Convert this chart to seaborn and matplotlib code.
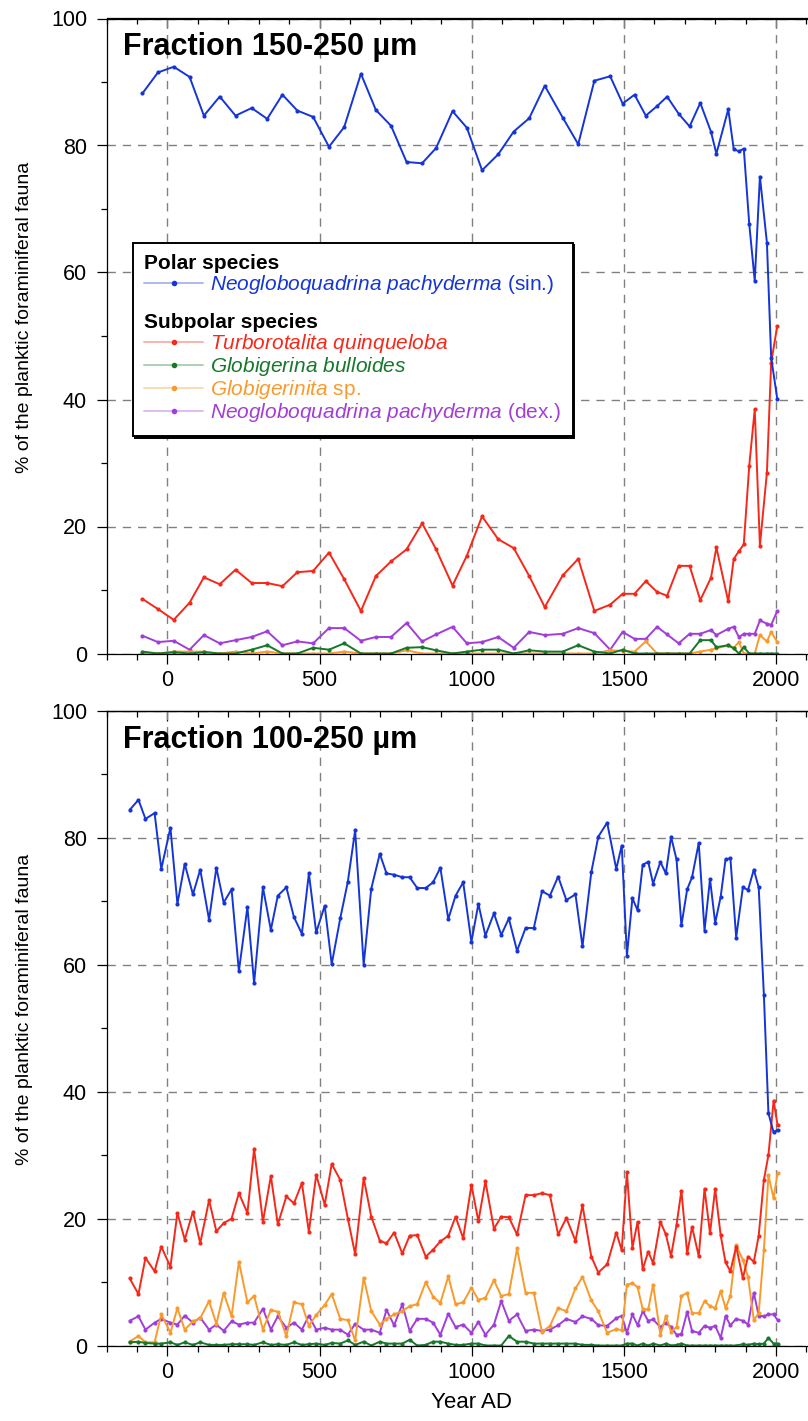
import matplotlib
matplotlib.use("Agg")
import pandas as pd
import seaborn as sns
from matplotlib import pyplot as plt
from matplotlib.colors import to_rgba
from matplotlib.lines import Line2D
from matplotlib.ticker import MultipleLocator


# Fraction 150-250 um (upper panel)
years_top = [-82, -31, 21, 73, 120, 172, 224, 277, 328, 378,
             427, 479, 531, 581, 636, 685, 735, 786, 837, 883,
             937, 984, 1034, 1087, 1138, 1189, 1240, 1299, 1350, 1403,
             1455, 1496, 1535, 1572, 1609, 1642, 1680, 1716, 1751, 1786,
             1804, 1843, 1861, 1878, 1894, 1912, 1930, 1947, 1970, 1984,
             2004]
nps_top = [88.2, 91.5, 92.4, 90.8, 84.7, 87.7, 84.7, 85.9, 84.2, 88.0,
           85.5, 84.5, 79.8, 82.9, 91.3, 85.6, 83.1, 77.4, 77.2, 79.6,
           85.4, 82.8, 76.1, 78.6, 82.2, 84.3, 89.4, 84.4, 80.2, 90.2,
           90.9, 86.6, 88.0, 84.7, 86.2, 87.7, 85.0, 83.0, 86.7, 82.2,
           78.7, 85.7, 79.4, 79.1, 79.5, 67.6, 58.7, 75.1, 64.7, 46.6,
           40.1]
tq_top = [8.6, 7.0, 5.3, 8.0, 12.0, 10.9, 13.2, 11.1, 11.1, 10.6,
          12.8, 13.0, 15.9, 11.7, 6.7, 12.2, 14.5, 16.4, 20.5, 16.4,
          10.7, 15.4, 21.6, 18.0, 16.6, 12.2, 7.3, 12.3, 14.9, 6.7,
          7.7, 9.4, 9.4, 11.4, 9.7, 9.1, 13.8, 13.8, 8.4, 11.9,
          16.7, 8.2, 14.9, 16.1, 17.2, 29.6, 38.5, 17.0, 28.5, 45.8,
          51.6]
gb_top = [0.3, 0.0, 0.2, 0.0, 0.2, 0.0, 0.0, 0.6, 1.3, 0.0,
          0.0, 0.9, 0.6, 1.6, 0.0, 0.0, 0.0, 0.9, 1.0, 0.5,
          0.0, 0.3, 0.6, 0.6, 0.0, 0.5, 0.3, 0.3, 1.3, 0.3,
          0.0, 0.6, 0.0, 0.0, 0.0, 0.0, 0.0, 0.0, 2.1, 2.1,
          1.0, 1.3, 0.8, 0.0, 1.0, 0.0, 0.0, 0.0, 0.0, 0.0,
          0.0]
gsp_top = [0.0, 0.0, 0.3, 0.3, 0.3, 0.0, 0.3, 0.0, 0.3, 0.0,
           0.0, 0.0, 0.0, 0.3, 0.0, 0.0, 0.0, 0.5, 0.0, 0.0,
           0.0, 0.0, 0.0, 0.0, 0.0, 0.0, 0.0, 0.0, 0.0, 0.0,
           0.5, 0.4, 0.3, 1.9, 0.0, 0.0, 0.0, 0.0, 0.3, 0.6,
           0.8, 1.3, 0.9, 1.8, 0.0, 0.0, 0.0, 2.9, 1.9, 3.4,
           1.8]
npd_top = [2.8, 1.8, 2.0, 0.6, 2.9, 1.6, 2.1, 2.6, 3.5, 1.3,
           1.9, 1.6, 4.0, 4.0, 2.0, 2.6, 2.6, 4.8, 1.9, 3.0,
           4.2, 1.6, 1.8, 2.6, 0.9, 3.4, 2.9, 3.1, 4.0, 3.2,
           0.6, 3.4, 2.3, 2.3, 4.2, 3.0, 1.6, 3.1, 3.1, 3.7,
           2.9, 3.9, 4.2, 2.6, 3.1, 3.1, 3.1, 5.2, 4.7, 4.5,
           6.7]

# Fraction 100-250 um (lower panel)
years_bot = [-124, -95, -72, -42, -20, 10, 33, 57, 84, 108,
             137, 161, 185, 211, 235, 263, 285, 314, 340, 363,
             391, 416, 442, 465, 489, 517, 540, 568, 593, 617,
             645, 670, 698, 720, 745, 772, 796, 821, 849, 873,
             897, 923, 947, 972, 999, 1022, 1045, 1073, 1097, 1122,
             1149, 1177, 1204, 1231, 1257, 1284, 1311, 1341, 1364, 1393,
             1416, 1445, 1475, 1493, 1510, 1528, 1545, 1562, 1580, 1596,
             1620, 1638, 1655, 1673, 1689, 1708, 1724, 1746, 1765, 1783,
             1800, 1818, 1834, 1850, 1869, 1891, 1908, 1927, 1943, 1960,
             1975, 1992, 2005]
nps_bot = [84.4, 86.0, 83.0, 83.9, 75.1, 81.6, 69.6, 75.9, 71.1, 75.0,
           67.1, 75.3, 69.8, 71.9, 59.0, 69.1, 57.1, 72.2, 65.5, 70.9,
           72.2, 67.5, 64.9, 74.4, 65.1, 69.3, 60.1, 67.3, 73.1, 81.2,
           60.0, 72.0, 77.5, 74.4, 74.2, 73.8, 73.8, 72.1, 72.1, 73.0,
           75.3, 67.2, 70.9, 73.0, 63.6, 69.6, 64.6, 68.1, 64.7, 67.3,
           62.2, 65.8, 65.8, 71.6, 70.9, 73.9, 70.2, 71.1, 62.9, 74.6,
           80.2, 82.4, 75.1, 78.8, 61.4, 70.5, 68.6, 75.8, 76.2, 72.8,
           76.2, 74.4, 80.2, 76.6, 66.2, 71.9, 73.8, 79.2, 65.4, 73.5,
           66.6, 70.7, 76.6, 76.8, 64.3, 72.2, 71.8, 75.0, 72.2, 55.3,
           36.6, 33.6, 34.0]
tq_bot = [10.6, 8.1, 13.8, 11.7, 15.6, 12.4, 20.9, 16.7, 21.1, 16.1,
          22.9, 18.0, 19.3, 20.0, 24.0, 20.9, 31.0, 19.5, 26.7, 19.1,
          23.5, 22.4, 25.6, 17.9, 26.9, 22.2, 28.6, 26.1, 20.0, 14.4,
          26.4, 20.3, 16.5, 16.1, 17.8, 14.5, 17.3, 17.4, 14.0, 15.1,
          16.4, 17.3, 20.3, 16.9, 25.3, 19.6, 25.9, 18.4, 20.3, 20.2,
          17.5, 23.7, 23.7, 24.0, 23.7, 17.5, 20.1, 16.5, 22.1, 14.0,
          11.5, 12.8, 17.8, 15.0, 27.3, 15.4, 19.5, 12.0, 14.8, 13.0,
          19.5, 17.5, 14.1, 19.0, 24.4, 14.5, 18.7, 14.1, 24.7, 17.7,
          24.7, 17.4, 13.1, 11.7, 15.6, 10.6, 14.0, 13.2, 17.3, 26.1,
          30.0, 38.6, 34.7]
gb_bot = [0.5, 0.6, 0.4, 0.3, 0.3, 0.5, 0.1, 0.5, 0.1, 0.5,
          0.1, 0.1, 0.1, 0.2, 0.2, 0.2, 0.1, 0.5, 0.1, 0.2,
          0.1, 0.5, 0.1, 0.2, 0.3, 0.1, 0.4, 0.3, 0.8, 0.1,
          0.6, 0.0, 0.6, 0.3, 0.3, 0.3, 0.9, 0.0, 0.1, 0.6,
          0.6, 0.3, 0.1, 0.1, 0.3, 0.3, 0.0, 0.0, 0.0, 1.5,
          0.6, 0.6, 0.3, 0.3, 0.3, 0.3, 0.3, 0.3, 0.1, 0.1,
          0.0, 0.0, 0.0, 0.0, 0.3, 0.3, 0.0, 0.3, 0.0, 0.3,
          0.0, 0.3, 0.0, 0.1, 0.3, 0.0, 0.0, 0.0, 0.0, 0.0,
          0.0, 0.0, 0.0, 0.0, 0.0, 0.2, 0.1, 0.3, 0.2, 0.3,
          1.2, 0.3, 0.3]
gsp_bot = [0.6, 1.5, 0.5, 0.5, 4.9, 2.0, 5.9, 2.5, 3.8, 4.3,
           7.0, 3.4, 8.3, 4.6, 13.2, 6.8, 7.8, 2.5, 5.6, 5.3,
           1.5, 6.8, 6.5, 3.1, 4.8, 6.4, 8.1, 4.2, 4.0, 0.8,
           10.7, 5.4, 3.3, 4.2, 4.9, 5.4, 6.2, 6.5, 10.0, 7.7,
           6.7, 10.9, 6.5, 6.8, 9.1, 7.2, 7.5, 10.3, 7.8, 8.1,
           15.3, 8.3, 8.3, 2.1, 3.1, 5.9, 5.4, 9.0, 10.8, 7.1,
           5.4, 2.0, 2.6, 2.4, 9.6, 9.8, 9.2, 5.7, 5.7, 9.6,
           1.7, 4.6, 2.2, 2.9, 7.8, 8.3, 5.1, 5.1, 7.0, 6.2,
           5.9, 8.6, 5.9, 7.8, 15.8, 13.5, 10.8, 4.0, 5.1, 15.0,
           26.8, 23.2, 27.2]
npd_bot = [3.9, 4.6, 2.5, 3.6, 4.2, 3.6, 3.3, 4.7, 3.6, 4.4,
           2.5, 3.3, 2.3, 3.8, 3.3, 3.6, 3.6, 5.8, 2.5, 4.6,
           2.8, 3.6, 2.5, 4.7, 2.5, 2.8, 2.5, 2.5, 1.7, 3.4,
           2.5, 2.5, 2.0, 5.6, 3.2, 6.5, 2.3, 4.2, 4.2, 3.6,
           1.7, 5.0, 2.9, 3.3, 2.0, 3.7, 1.7, 3.3, 7.0, 3.9,
           4.9, 2.3, 2.5, 2.3, 2.5, 3.2, 4.2, 3.7, 4.6, 4.2,
           3.2, 3.1, 4.3, 4.7, 2.0, 4.9, 3.2, 5.4, 3.9, 4.1,
           2.9, 3.6, 2.9, 1.7, 1.8, 5.3, 2.3, 2.0, 3.1, 2.8,
           3.1, 1.2, 4.6, 3.2, 4.2, 3.9, 3.3, 8.3, 4.7, 4.6,
           4.9, 4.9, 4.0]

colors = {'nps': '#1535d6', 'tq': '#f5281a', 'gb': '#16782a',
          'gsp': '#f99a2c', 'npd': '#a23ed8'}
draw_order = ['npd', 'gsp', 'gb', 'tq', 'nps']

legend_entries = [
    ('Polar species', None),
    (r'$\mathit{Neogloboquadrina\ pachyderma}$ (sin.)', 'nps'),
    (' ', None),
    ('Subpolar species', None),
    (r'$\mathit{Turborotalita\ quinqueloba}$', 'tq'),
    (r'$\mathit{Globigerina\ bulloides}$', 'gb'),
    (r'$\mathit{Globigerinita}$ sp.', 'gsp'),
    (r'$\mathit{Neogloboquadrina\ pachyderma}$ (dex.)', 'npd'),
]


def long_frame(years, series):
    frames = [pd.DataFrame({'year': years, 'pct': vals, 'species': key})
              for key, vals in series.items()]
    return pd.concat(frames, ignore_index=True)


def plot_panel(ax, df, title):
    sns.lineplot(data=df, x='year', y='pct', hue='species',
                 hue_order=draw_order, palette=colors, estimator=None,
                 sort=False, marker='o', markersize=3, markeredgewidth=0,
                 linewidth=1.4, legend=False, ax=ax)

    ax.set_xlim(-200, 2105)
    ax.set_ylim(0, 100)
    ax.xaxis.set_major_locator(MultipleLocator(500))
    ax.xaxis.set_minor_locator(MultipleLocator(100))
    ax.yaxis.set_major_locator(MultipleLocator(20))
    ax.yaxis.set_minor_locator(MultipleLocator(10))
    ax.tick_params(which='both', direction='out', bottom=True, left=True,
                   top=False, right=False, color='black', width=0.9)
    ax.tick_params(which='major', length=7, labelsize=15.5, pad=5)
    ax.tick_params(which='minor', length=4)
    ax.tick_params(axis='y', which='major', pad=7)
    ax.grid(True, which='major', color='#808080',
            linestyle=(0, (6, 5)), linewidth=1.0)
    ax.set_axisbelow(True)
    ax.spines['right'].set_visible(False)

    # ticks on top spine point inward
    top = ax.secondary_xaxis('top')
    top.xaxis.set_major_locator(MultipleLocator(500))
    top.xaxis.set_minor_locator(MultipleLocator(100))
    top.tick_params(which='both', direction='in', labeltop=False,
                    color='black', width=0.9)
    top.tick_params(which='major', length=7)
    top.tick_params(which='minor', length=4)

    ax.text(0.024, 0.978, title, transform=ax.transAxes, ha='left',
            va='top', fontsize=22, fontweight='bold')
    ax.set_xlabel('')
    ax.set_ylabel('% of the planktic foraminiferal fauna', fontsize=14)
    ax.yaxis.set_label_coords(-0.105, 0.53)


def add_legend(ax):
    handles, labels = [], []
    for label, key in legend_entries:
        if key is None:
            handles.append(Line2D([], [], linestyle='none'))
        else:
            c = colors[key]
            handles.append(Line2D([], [], color=to_rgba(c, 0.35), lw=1.4,
                                  marker='o', markersize=3,
                                  markerfacecolor=c, markeredgecolor=c))
        labels.append(label)

    leg = ax.legend(handles, labels, loc='upper left',
                    bbox_to_anchor=(0.0378, 0.6465), borderaxespad=0,
                    fancybox=False, framealpha=1, edgecolor='black',
                    fontsize=15, handlelength=2.8, handletextpad=0.35,
                    labelspacing=0.0, borderpad=0.55, numpoints=1,
                    shadow={'ox': 1.2, 'oy': -1.2, 'facecolor': 'black',
                            'edgecolor': 'black', 'alpha': 1})
    leg.get_frame().set_linewidth(1.4)

    rows = [row for col in leg._legend_handle_box.get_children()
            for row in col.get_children()]
    for text, row, (label, key) in zip(leg.get_texts(), rows, legend_entries):
        if key is None:
            box = row.get_children()[0]
            box.width = 0
            row.sep = 0
            text.set_fontweight('bold')
            text.set_color('black')
            if label.strip() == '':
                box.height = 0
                box.ydescent = 0
                text.set_fontsize(13)
        else:
            text.set_color(colors[key])


def main():
    sns.set_theme(style='white')
    plt.rcParams['font.family'] = ['Liberation Sans', 'DejaVu Sans']
    plt.rcParams['mathtext.fontset'] = 'custom'
    plt.rcParams['mathtext.rm'] = 'Liberation Sans'
    plt.rcParams['mathtext.it'] = 'Liberation Sans:italic'
    plt.rcParams['mathtext.bf'] = 'Liberation Sans:bold'
    for k in ['text.color', 'axes.labelcolor', 'xtick.color',
              'ytick.color', 'axes.edgecolor']:
        plt.rcParams[k] = 'black'
    plt.rcParams['axes.linewidth'] = 0.9

    fig = plt.figure(figsize=(8.08, 14.21), dpi=100)
    ax_top = fig.add_axes([106.5 / 808, 1 - 653.5 / 1421, 701.5 / 808, 635 / 1421])
    ax_bot = fig.add_axes([106.5 / 808, 1 - 1345.5 / 1421, 701.5 / 808, 634.5 / 1421])

    df_top = long_frame(years_top, {'nps': nps_top, 'tq': tq_top, 'gb': gb_top,
                                    'gsp': gsp_top, 'npd': npd_top})
    df_bot = long_frame(years_bot, {'nps': nps_bot, 'tq': tq_bot, 'gb': gb_bot,
                                    'gsp': gsp_bot, 'npd': npd_bot})

    plot_panel(ax_top, df_top, 'Fraction 150-250 µm')
    plot_panel(ax_bot, df_bot, 'Fraction 100-250 µm')
    add_legend(ax_top)

    ax_bot.set_xlabel('Year AD', fontsize=16)
    ax_bot.xaxis.set_label_coords(0.521, -0.074)

    fig.savefig('out.png', dpi=100)


if __name__ == "__main__":
    main()
